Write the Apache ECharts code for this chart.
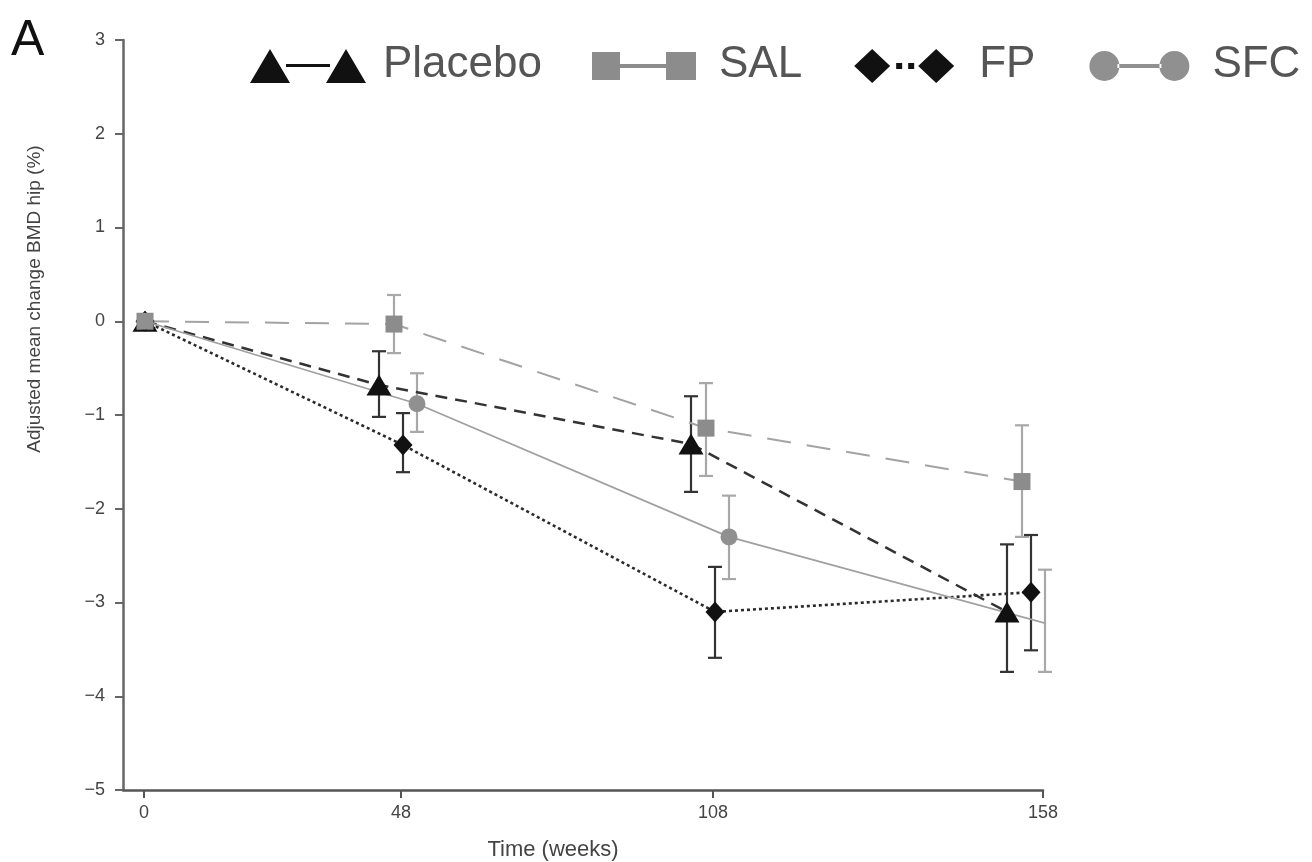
<!DOCTYPE html>
<html>
<head>
<meta charset="utf-8">
<script src="https://cdn.jsdelivr.net/npm/echarts@6/dist/echarts.min.js"></script>
<style>
  html, body { margin: 0; padding: 0; background: #ffffff; }
  #chart { width: 1312px; height: 862px; }
</style>
</head>
<body>
<div id="chart"></div>
<script>
// ---- data ----
const weekLabels = ['0', '48', '108', '158'];
const seriesNames = ['Placebo', 'SAL', 'FP', 'SFC'];
const placeboMean = [0, -0.68, -1.31, -3.10];
const placeboHigh = [0, -0.32, -0.80, -2.38];
const placeboLow  = [0, -1.02, -1.82, -3.74];
const salMean = [0, -0.03, -1.14, -1.71];
const salHigh = [0, 0.28, -0.66, -1.11];
const salLow  = [0, -0.34, -1.65, -2.30];
const fpMean = [0, -1.32, -3.10, -2.89];
const fpHigh = [0, -0.98, -2.62, -2.28];
const fpLow  = [0, -1.61, -3.59, -3.51];
const sfcMean = [0, -0.88, -2.30, -3.22];
const sfcHigh = [0, -0.555, -1.86, -2.65];
const sfcLow  = [0, -1.18, -2.75, -3.74];
const yTicks = [-5, -4, -3, -2, -1, 0, 1, 2, 3];

// ---- layout of the (unevenly spaced) time axis, in axis units ----
const visitTickPos = [0, 257, 569, 899];
const visitGroupCentre = [1, 257, 569, 885];
const visitDodgeOn = [0, 1, 1, 1];
const dodge = { Placebo: -22, SAL: -7, FP: 2, SFC: 16 };

const meanBy = { Placebo: placeboMean, SAL: salMean, FP: fpMean, SFC: sfcMean };
const highBy = { Placebo: placeboHigh, SAL: salHigh, FP: fpHigh, SFC: sfcHigh };
const lowBy  = { Placebo: placeboLow,  SAL: salLow,  FP: fpLow,  SFC: sfcLow };

const styleBy = {
  Placebo: { color: '#111111', line: '#333333', lw: 2.5, type: [12, 8], symbol: 'triangle', size: [25, 21], err: '#333333' },
  SAL:     { color: '#8c8c8c', line: '#a3a3a3', lw: 2, type: [24, 16], symbol: 'rect', size: 17, err: '#a8a8a8' },
  FP:      { color: '#111111', line: '#2a2a2a', lw: 2.6, type: [3, 3], symbol: 'diamond', size: [19, 21], err: '#333333' },
  SFC:     { color: '#909090', line: '#a0a0a0', lw: 1.8, type: 'solid', symbol: 'circle', size: 17, err: '#a8a8a8' }
};

const legendIcons = {
  Placebo: 'path://M0 0M116 36M0 36L20 2L40 36ZM36 17L80 17L80 20L36 20ZM76 36L96 2L116 36Z',
  SAL: 'path://M0 0M116 36M6 5L34 5L34 33L6 33ZM34 17L80 17L80 21L34 21ZM80 5L110 5L110 33L80 33Z',
  FP: 'path://M0 0M116 36M8 19L26 2L44 19L26 36ZM50 16L56 16L56 22L50 22ZM62 16L68 16L68 22L62 22ZM72 19L90 2L108 19L90 36Z',
  SFC: 'path://M0 0M116 36M10 19a15 15 0 1 0 30 0a15 15 0 1 0 -30 0ZM38 17L82 17L82 21L38 21ZM80 19a15 15 0 1 0 30 0a15 15 0 1 0 -30 0Z'
};

function xOf(name, i) {
  return visitGroupCentre[i] + visitDodgeOn[i] * dodge[name];
}

const series = [];
seriesNames.forEach(function (name) {
  const st = styleBy[name];
  const errData = [];
  meanBy[name].forEach(function (v, i) {
    if (highBy[name][i] !== lowBy[name][i]) errData.push([xOf(name, i), highBy[name][i], lowBy[name][i]]);
  });
  series.push({
    name: name + ' error',
    type: 'custom',
    z: 3,
    silent: true,
    data: errData,
    encode: { x: 0, y: [1, 2] },
    renderItem: function (params, api) {
      const x = api.value(0);
      const pHi = api.coord([x, api.value(1)]);
      const pLo = api.coord([x, api.value(2)]);
      const w = 7;
      const s = { stroke: st.err, lineWidth: 2.2, fill: null };
      return {
        type: 'group',
        children: [
          { type: 'line', shape: { x1: pHi[0], y1: pHi[1], x2: pLo[0], y2: pLo[1] }, style: s },
          { type: 'line', shape: { x1: pHi[0] - w, y1: pHi[1], x2: pHi[0] + w, y2: pHi[1] }, style: s },
          { type: 'line', shape: { x1: pLo[0] - w, y1: pLo[1], x2: pLo[0] + w, y2: pLo[1] }, style: s }
        ]
      };
    }
  });
});
seriesNames.forEach(function (name) {
  const st = styleBy[name];
  series.push({
    name: name,
    type: 'line',
    z: 4,
    data: meanBy[name].map(function (v, i) { return [xOf(name, i), v]; }),
    symbol: st.symbol,
    symbolSize: st.size,
    showAllSymbol: true,
    color: st.color,
    itemStyle: { color: st.color, borderWidth: 0 },
    lineStyle: { color: st.line, width: st.lw, type: st.type },
    emphasis: { disabled: true },
    animation: false
  });
});

const chart = echarts.init(document.getElementById('chart'));
chart.setOption({
  animation: false,
  backgroundColor: '#ffffff',
  grid: { left: 123, right: 269, top: 40, bottom: 72, containLabel: false, outerBoundsMode: 'none' },
  legend: {
    left: 245,
    top: 38,
    width: 1300,
    itemWidth: 116,
    itemHeight: 36,
    itemGap: 44,
    data: seriesNames.map(function (n) { return { name: n, icon: legendIcons[n], itemStyle: { color: styleBy[n].color, borderWidth: 0 } }; }),
    textStyle: { fontSize: 44, color: '#555555', fontFamily: 'Liberation Sans, Arial, sans-serif', padding: [0, 0, 0, 12] },
    selectedMode: false
  },
  xAxis: {
    type: 'value',
    min: -21,
    max: 899,
    splitLine: { show: false },
    axisLine: { show: true, onZero: false, lineStyle: { color: '#555555', width: 2.5 } },
    axisTick: { show: true, customValues: visitTickPos, length: 8, lineStyle: { color: '#555555', width: 2 } },
    axisLabel: {
      customValues: visitTickPos,
      formatter: function (v) { const i = visitTickPos.indexOf(v); return i >= 0 ? weekLabels[i] : ''; },
      fontSize: 18, color: '#444444', margin: 14, fontFamily: 'Liberation Sans, Arial, sans-serif'
    }
  },
  yAxis: {
    type: 'value',
    min: yTicks[0],
    max: yTicks[yTicks.length - 1],
    interval: 1,
    splitLine: { show: false },
    axisLine: { show: true, onZero: false, lineStyle: { color: '#666666', width: 2.5 } },
    axisTick: { show: true, length: 8, lineStyle: { color: '#666666', width: 2 } },
    axisLabel: {
      formatter: function (v) { return String(v).replace('-', '\u2212'); },
      fontSize: 18, color: '#444444', margin: 18, fontFamily: 'Liberation Sans, Arial, sans-serif'
    }
  },
  graphic: [
    { type: 'text', left: 11, top: 16, style: { text: 'A', fontSize: 50, fill: '#111111', fontFamily: 'Liberation Sans, Arial, sans-serif' } },
    { type: 'text', x: 35, y: 299, rotation: Math.PI / 2, style: { text: 'Adjusted mean change BMD hip (%)', fontSize: 19, fill: '#444444', align: 'center', verticalAlign: 'middle', fontFamily: 'Liberation Sans, Arial, sans-serif' } },
    { type: 'text', x: 553, y: 850, style: { text: 'Time (weeks)', fontSize: 22, fill: '#444444', align: 'center', verticalAlign: 'middle', fontFamily: 'Liberation Sans, Arial, sans-serif' } }
  ],
  series: series
});
</script>
</body>
</html>
